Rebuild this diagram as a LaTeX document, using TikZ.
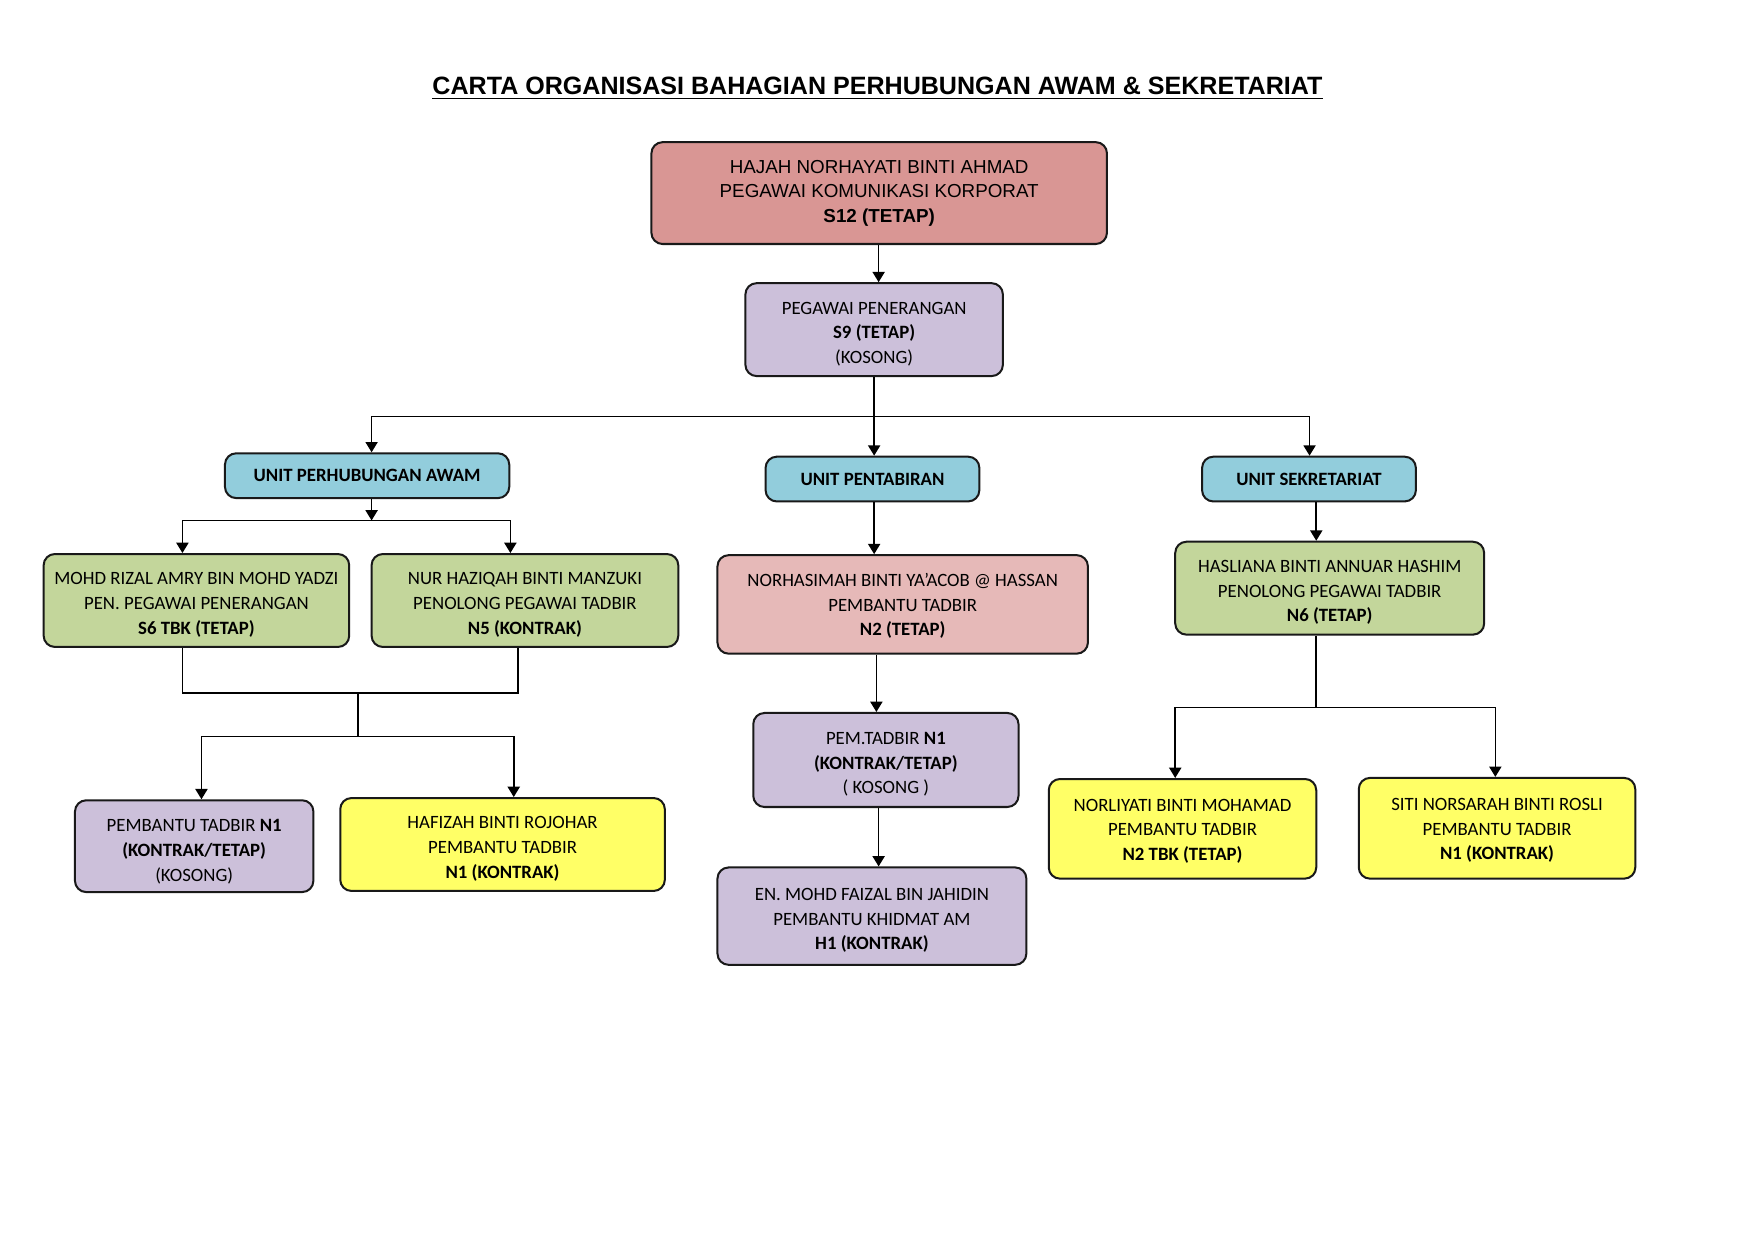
\documentclass[tikz,border=0pt]{standalone}
\usepackage{fontspec}
\setmainfont{Carlito}
\newfontfamily\arialf{Liberation Sans}
\usetikzlibrary{arrows.meta,calc}
\definecolor{cTop}{RGB}{217,150,148}
\definecolor{cLav}{RGB}{204,192,218}
\definecolor{cUnit}{RGB}{146,205,220}
\definecolor{cGreen}{RGB}{195,214,155}
\definecolor{cPink}{RGB}{230,185,184}
\definecolor{cYel}{RGB}{255,255,102}
\definecolor{cBorder}{RGB}{25,25,25}
\newcommand\tpa{\rule{0pt}{9.4pt}}
\newcommand\tpb{\rule{0pt}{7.4pt}}
\newcommand\tpc{\rule{0pt}{10.4pt}}
\tikzset{
  box/.style={draw=cBorder, line width=0.9pt, rounded corners=5pt, inner sep=0pt,
    align=center, font=\fontsize{8.4}{11}\selectfont},
  ln/.style={line width=0.75pt, draw=black},
  arr/.style={ln, -{Triangle[length=4.6pt,width=5.4pt]}},
}
\begin{document}
\begin{tikzpicture}[x=0.5pt,y=-0.5pt]
\useasboundingbox[fill=white] (0,0) rectangle (1568,1109);
\node (title) at (784,79) {\arialf\fontsize{11.2}{13}\selectfont\bfseries\underline{CARTA ORGANISASI BAHAGIAN PERHUBUNGAN AWAM \& SEKRETARIAT}};

\node[box, fill=cTop, minimum width=203.5pt, minimum height=45.5pt, font=\arialf\fontsize{8.4}{11}\selectfont] (top) at (785.5,172.5)
  {HAJAH NORHAYATI BINTI AHMAD\\PEGAWAI KOMUNIKASI KORPORAT\\\textbf{S12 (TETAP)}};
\node[box, fill=cLav, minimum width=115pt, minimum height=41.5pt] (pp) at (781,294.5)
  {\tpa PEGAWAI PENERANGAN\\\textbf{S9 (TETAP)}\\(KOSONG)};

\node[box, fill=cUnit, minimum width=127pt, minimum height=20pt] (upa) at (328,425) {\textbf{UNIT PERHUBUNGAN AWAM}};
\node[box, fill=cUnit, minimum width=95.5pt, minimum height=20pt] (upt) at (779.5,428) {\textbf{UNIT PENTABIRAN}};
\node[box, fill=cUnit, minimum width=95.5pt, minimum height=20pt] (usk) at (1169.5,428) {\textbf{UNIT SEKRETARIAT}};

\node[box, fill=cGreen, minimum width=136.5pt, minimum height=41.5pt] (mra) at (175.5,536.5)
  {\tpa MOHD RIZAL AMRY BIN MOHD YADZI\\PEN. PEGAWAI PENERANGAN\\\textbf{S6 TBK (TETAP)}};
\node[box, fill=cGreen, minimum width=137pt, minimum height=41.5pt] (nhb) at (469,536.5)
  {\tpa NUR HAZIQAH BINTI MANZUKI\\PENOLONG PEGAWAI TADBIR\\\textbf{N5 (KONTRAK)}};
\node[box, fill=cLav, minimum width=106.5pt, minimum height=41pt] (ptn) at (173.5,756)
  {\tpc PEMBANTU TADBIR \textbf{N1}\\\textbf{(KONTRAK/TETAP)}\\(KOSONG)};
\node[box, fill=cYel, minimum width=145pt, minimum height=41.5pt] (hbr) at (449,754.5)
  {\tpa HAFIZAH BINTI ROJOHAR\\PEMBANTU TADBIR\\\textbf{N1 (KONTRAK)}};

\node[box, fill=cPink, minimum width=165.5pt, minimum height=44pt] (nby) at (806.5,540)
  {\tpb NORHASIMAH BINTI YA’ACOB @ HASSAN\\PEMBANTU TADBIR\\\textbf{N2 (TETAP)}};
\node[box, fill=cLav, minimum width=118.5pt, minimum height=42pt] (ptb) at (791.5,679)
  {\tpa PEM.TADBIR \textbf{N1}\\\textbf{(KONTRAK/TETAP)}\\( KOSONG )};
\node[box, fill=cLav, minimum width=138pt, minimum height=43.5pt] (mfj) at (779,818.5)
  {\tpa EN. MOHD FAIZAL BIN JAHIDIN\\PEMBANTU KHIDMAT AM\\\textbf{H1 (KONTRAK)}};

\node[box, fill=cGreen, minimum width=138pt, minimum height=41.5pt] (hah) at (1188,525.5)
  {\tpa HASLIANA BINTI ANNUAR HASHIM\\PENOLONG PEGAWAI TADBIR\\\textbf{N6 (TETAP)}};
\node[box, fill=cYel, minimum width=119.5pt, minimum height=44.5pt] (nbm) at (1056.5,740.5)
  {\tpb NORLIYATI BINTI MOHAMAD\\PEMBANTU TADBIR\\\textbf{N2 TBK (TETAP)}};
\node[box, fill=cYel, minimum width=123.5pt, minimum height=45pt] (snr) at (1337.5,740)
  {\tpb SITI NORSARAH BINTI ROSLI\\PEMBANTU TADBIR\\\textbf{N1 (KONTRAK)}};

% connectors
\coordinate (c0) at (785,0);
\draw[arr] (c0 |- top.south) -- (c0 |- pp.north);
\coordinate (b1l) at (332,372);
\coordinate (b1r) at (1170,372);
\draw[ln] (b1l) -- (b1r);
\draw[arr] (pp.south) -- (pp.south |- upt.north);
\draw[arr] (b1l) -- (b1l |- upa.north);
\draw[arr] (b1r) -- (b1r |- usk.north);

\coordinate (b2) at (332,465);
\coordinate (b2l) at (163,465);
\coordinate (b2r) at (456,465);
\draw[arr] (b2 |- upa.south) -- (b2);
\draw[ln] (b2l) -- (b2r);
\draw[arr] (b2l) -- (b2l |- mra.north);
\draw[arr] (b2r) -- (b2r |- nhb.north);

\coordinate (b3l) at (163,619);
\coordinate (b3r) at (463,619);
\coordinate (b3m) at (320,619);
\coordinate (b4m) at (320,658);
\coordinate (b4l) at (180,658);
\coordinate (b4r) at (459,658);
\draw[ln] (b3l |- mra.south) -- (b3l) -- (b3r) -- (b3r |- nhb.south);
\draw[ln] (b3m) -- (b4m);
\draw[ln] (b4l) -- (b4r);
\draw[arr] (b4l) -- (b4l |- ptn.north);
\draw[arr] (b4r) -- (b4r |- hbr.north);

\coordinate (c1) at (781,0);
\coordinate (c2) at (783,0);
\coordinate (c3) at (785,0);
\draw[arr] (c1 |- upt.south) -- (c1 |- nby.north);
\draw[arr] (c2 |- nby.south) -- (c2 |- ptb.north);
\draw[arr] (c3 |- ptb.south) -- (c3 |- mfj.north);

\coordinate (c4) at (1176,0);
\coordinate (b5m) at (1176,632);
\coordinate (b5l) at (1050,632);
\coordinate (b5r) at (1336,632);
\draw[arr] (c4 |- usk.south) -- (c4 |- hah.north);
\draw[ln] (c4 |- hah.south) -- (b5m);
\draw[ln] (b5l) -- (b5r);
\draw[arr] (b5l) -- (b5l |- nbm.north);
\draw[arr] (b5r) -- (b5r |- snr.north);
\end{tikzpicture}
\end{document}
